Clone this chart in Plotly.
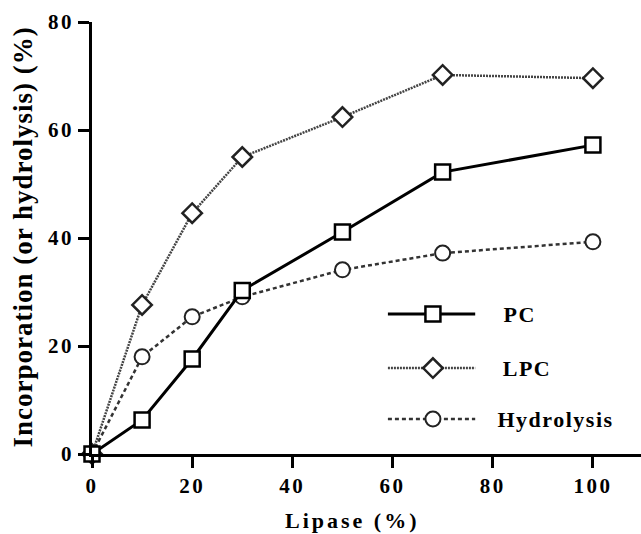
import plotly.graph_objects as go

lipase = [0, 10, 20, 30, 50, 70, 100]
pc = [0, 6.3, 17.6, 30.3, 41.1, 52.2, 57.2]
lpc = [0, 27.6, 44.6, 55.0, 62.4, 70.2, 69.6]
hydrolysis = [0, 18.0, 25.4, 29.1, 34.1, 37.2, 39.3]

series_names = ["PC", "LPC", "Hydrolysis"]
x_ticks = [0, 20, 40, 60, 80, 100]
y_ticks = [0, 20, 40, 60, 80]

FONT = "Liberation Serif"

styles = {
    "PC": dict(line=dict(color="black", width=3, dash="solid"),
               marker=dict(symbol="square", size=15, color="white",
                           line=dict(color="black", width=2.5))),
    "LPC": dict(line=dict(color="#444444", width=2.5, dash="2px,1px"),
                marker=dict(symbol="diamond", size=15, color="white",
                            line=dict(color="#222222", width=2.5))),
    "Hydrolysis": dict(line=dict(color="#333333", width=2.5, dash="4px,3px"),
                       marker=dict(symbol="circle", size=15, color="white",
                                   line=dict(color="#222222", width=2))),
}

fig = go.Figure()
for name, ys in [("LPC", lpc), ("Hydrolysis", hydrolysis), ("PC", pc)]:
    fig.add_trace(go.Scatter(x=lipase, y=ys, mode="lines+markers", name=name,
                             cliponaxis=False, showlegend=False, **styles[name]))

# legend samples drawn on an overlay axis spanning the plot area
leg_rows = {"PC": 0.324, "LPC": 0.199, "Hydrolysis": 0.081}
for name in series_names:
    yy = leg_rows[name]
    st = styles[name]
    fig.add_trace(go.Scatter(x=[0.539, 0.698], y=[yy, yy], mode="lines",
                             line=st["line"], xaxis="x2", yaxis="y2",
                             showlegend=False, hoverinfo="skip"))
    fig.add_trace(go.Scatter(x=[0.621], y=[yy], mode="markers",
                             marker=st["marker"], xaxis="x2", yaxis="y2",
                             showlegend=False, hoverinfo="skip"))
    fig.add_annotation(x=0.749, y=yy, xref="paper", yref="paper",
                       text="<b>%s</b>" % name, showarrow=False,
                       xanchor="left", yanchor="middle",
                       font=dict(family=FONT, size=22, color="black"))

axis_common = dict(showline=True, linecolor="black", linewidth=2.5,
                   ticks="outside", ticklen=11, tickwidth=2.5, tickcolor="black",
                   showgrid=False, zeroline=False,
                   tickfont=dict(family=FONT, size=21, color="black"))

fig.update_layout(
    width=641, height=534,
    margin=dict(l=92, r=0, t=22, b=80),
    paper_bgcolor="white", plot_bgcolor="white",
    xaxis=dict(range=[0, 109.6], tickvals=x_ticks,
               ticktext=["<b>%d</b>" % v for v in x_ticks], **axis_common),
    yaxis=dict(range=[0, 80], tickvals=y_ticks,
               ticktext=["<b>%d</b>" % v for v in y_ticks], **axis_common),
    xaxis2=dict(range=[0, 1], overlaying="x", visible=False),
    yaxis2=dict(range=[0, 1], overlaying="y", visible=False),
)

fig.add_annotation(x=0.475, y=-0.153, xref="paper", yref="paper",
                   text="<b>Lipase (%)</b>", showarrow=False,
                   xanchor="center", yanchor="middle",
                   font=dict(family=FONT, size=22, color="black"))
fig.add_annotation(x=-0.126, y=0.502, xref="paper", yref="paper",
                   text="<b>Incorporation (or hydrolysis) (%)</b>", showarrow=False,
                   textangle=-90, xanchor="center", yanchor="middle",
                   font=dict(family=FONT, size=27, color="black"))

post = """
var gd = document.getElementById('{plot_id}');
gd.querySelectorAll('.xtick text, .ytick text').forEach(function(t){
  t.setAttribute('letter-spacing', '2.5px');
});
gd.querySelectorAll('.annotation-text').forEach(function(t){
  var s = t.textContent;
  if (s.indexOf('Lipase') === 0) { t.setAttribute('letter-spacing', '3px'); }
  else if (s.indexOf('Incorporation') === 0) { t.setAttribute('letter-spacing', '1px'); }
  else { t.setAttribute('letter-spacing', '1.5px'); }
});
"""

fig.write_html("out.html", post_script=post)
